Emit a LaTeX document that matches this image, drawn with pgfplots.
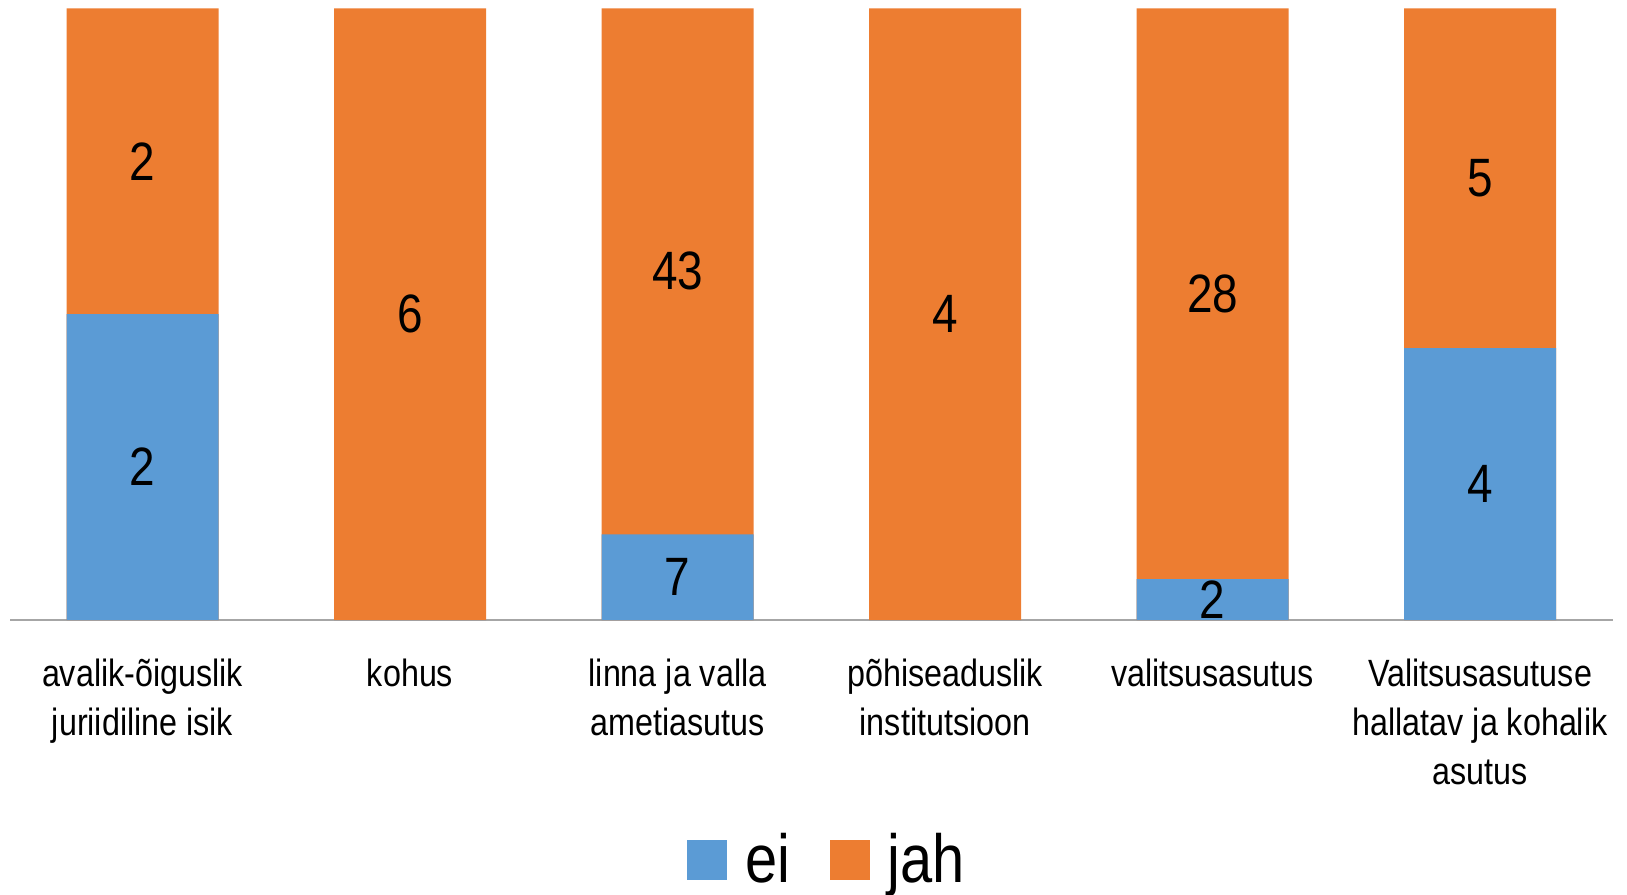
\documentclass[border=0pt]{standalone}
\usepackage{pgfplots}
\usepackage{pgfplotstable}
\pgfplotsset{compat=1.18}
\usepackage{fontspec}
\setmainfont[FakeStretch=0.85]{Liberation Sans}
\definecolor{eiblue}{HTML}{5B9BD5}
\definecolor{jahorange}{HTML}{ED7D31}
\definecolor{axgray}{HTML}{A6A6A6}

\pgfplotstableread{
x ei jah
0 2 2
1 0 6
2 7 43
3 0 4
4 2 28
5 4 5
}\data
\pgfplotstablecreatecol[expr={100*\thisrow{ei}/(\thisrow{ei}+\thisrow{jah})}]{eipct}\data
\pgfplotstablecreatecol[expr={\thisrow{eipct}/2}]{eimid}\data
\pgfplotstablecreatecol[expr={\thisrow{eipct}+(100-\thisrow{eipct})/2}]{jahmid}\data

\begin{document}
\begin{tikzpicture}
\begin{axis}[
  name=ax,
  scale only axis,
  width=801.3pt, height=305.85pt,
  xmin=-0.494, xmax=5.497,
  ymin=0, ymax=100,
  enlargelimits=false,
  clip=false,
  axis x line=bottom,
  axis y line=none,
  x axis line style={draw=axgray, line width=1pt, -},
  xtick=data,
  xtick style={draw=none},
  xticklabels={{avalik-õiguslik\\juriidiline isik},{kohus},{linna ja valla\\ametiasutus},{põhiseaduslik\\institutsioon},{valitsusasutus},{Valitsusasutuse\\hallatav ja kohalik\\asutus}},
  xticklabel style={align=center, anchor=north, inner sep=0pt, yshift=-16.9pt,
    font=\fontsize{19}{24.5}\selectfont},
  legend style={at={(0.509,-0.392)}, anchor=center, draw=none, fill=none,
    legend columns=2, font=\fontsize{34}{40}\selectfont,
    /tikz/every odd column/.append style={column sep=9pt},
    /tikz/every even column/.append style={column sep=20pt},
    nodes={inner sep=0pt}},
  legend cell align=left,
]
\addplot[ybar, bar width=76pt, bar shift=0pt, fill=jahorange, draw=none, forget plot]
  table[x=x, y expr=100] {\data};
\addplot[ybar, bar width=76pt, bar shift=0pt, fill=eiblue, draw=none, forget plot]
  table[x=x, y=eipct] {\data};
\addplot[draw=none, mark=none, forget plot,
  nodes near coords={\ifnum\pgfplotspointmeta=0 \else\pgfplotspointmeta\fi},
  nodes near coords align=center,
  point meta=explicit symbolic,
  every node near coord/.append style={font=\fontsize{27}{30}\selectfont, text=black, inner sep=0pt}]
  table[x=x, y=eimid, meta=ei] {\data};
\addplot[draw=none, mark=none, forget plot,
  nodes near coords={\ifnum\pgfplotspointmeta=0 \else\pgfplotspointmeta\fi},
  nodes near coords align=center,
  point meta=explicit symbolic,
  every node near coord/.append style={font=\fontsize{27}{30}\selectfont, text=black, inner sep=0pt}]
  table[x=x, y=jahmid, meta=jah] {\data};
\addlegendimage{legend image code/.code={\fill[eiblue] (0pt,-9.75pt) rectangle (19.5pt,9.75pt);}}
\addlegendentry{ei}
\addlegendimage{legend image code/.code={\fill[jahorange] (0pt,-9.75pt) rectangle (19.5pt,9.75pt);}}
\addlegendentry{jah}
\end{axis}
\pgfresetboundingbox
\path (ax.south west) ++(-5.2pt,-137pt) coordinate (bl);
\path (ax.north east) ++(7pt,4.15pt) coordinate (tr);
\path[use as bounding box] (bl) rectangle (tr);
\end{tikzpicture}
\end{document}
